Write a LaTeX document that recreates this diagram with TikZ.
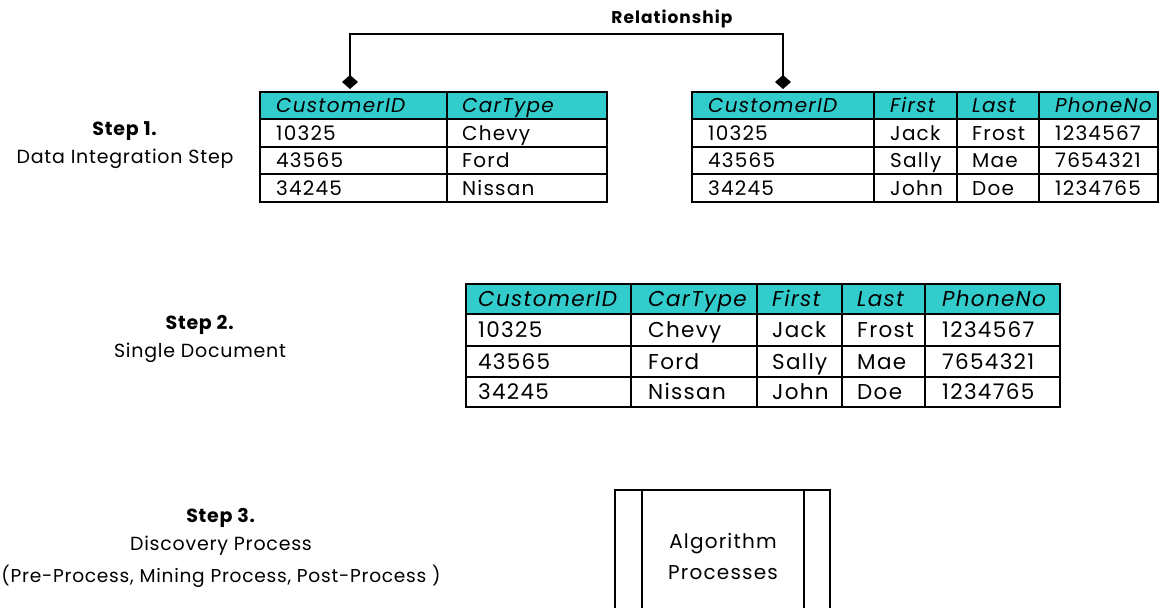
\documentclass[tikz,border=0pt]{standalone}
\usepackage{fontspec}
\setmainfont{Poppins}[LetterSpace=6]
\newfontfamily\labelfont{Poppins}[LetterSpace=4]
\usetikzlibrary{arrows.meta}
\definecolor{hdrcyan}{HTML}{33CCCC}
\begin{document}
\begin{tikzpicture}[x=1pt,y=-1pt,
  gridline/.style={draw=black,line width=2pt},
  hdrfill/.style={fill=hdrcyan},
  cellA/.style={anchor=west,inner sep=0pt,text height=14pt,text depth=0pt,font=\fontsize{20}{23}\selectfont},
  headA/.style={cellA,font=\fontsize{20}{23}\selectfont\itshape},
  cellB/.style={anchor=west,inner sep=0pt,text height=15pt,text depth=0pt,font=\fontsize{21.5}{25}\selectfont},
  headB/.style={cellB,font=\fontsize{21.5}{25}\selectfont\itshape},
  steplabel/.style={align=center,inner sep=0pt,font=\labelfont\fontsize{19}{27.5}\selectfont},
  link/.style={line width=2pt,{Diamond[length=14pt,width=16pt]}-{Diamond[length=14pt,width=16pt]},shorten <=3pt,shorten >=3pt}
]
\useasboundingbox (0,0) rectangle (1162,608);

% ---------- Table A: CustomerID / CarType ----------
\fill[hdrfill] (260,92) rectangle (607,119);
\draw[gridline] (260,92) rectangle (607,202);
\foreach \y in {119,147,174} \draw[gridline] (260,\y) -- (607,\y);
\draw[gridline] (447,92) -- (447,202);
\node[headA,name=ta-h1] at (276,105.5) {CustomerID};
\node[headA,name=ta-h2] at (462,105.5) {CarType};
\foreach \y/\a/\b [count=\r] in {133/10325/Chevy,160.5/43565/Ford,188/34245/Nissan}{
  \node[cellA,name=ta-\r-1] at (276,\y) {\a};
  \node[cellA,name=ta-\r-2] at (462,\y) {\b};
}

% ---------- Table B: CustomerID / First / Last / PhoneNo ----------
\fill[hdrfill] (692,92) rectangle (1158,119);
\draw[gridline] (692,92) rectangle (1158,202);
\foreach \y in {119,147,174} \draw[gridline] (692,\y) -- (1158,\y);
\foreach \x in {874,957,1039} \draw[gridline] (\x,92) -- (\x,202);
\foreach \x/\t [count=\i] in {708/CustomerID,890/First,972/Last,1055/PhoneNo}
  \node[headA,name=tb-h\i] at (\x,105.5) {\t};
\foreach \y/\a/\b/\c/\d [count=\r] in {133/10325/Jack/Frost/1234567,160.5/43565/Sally/Mae/7654321,188/34245/John/Doe/1234765}{
  \node[cellA,name=tb-\r-1] at (708,\y) {\a};
  \node[cellA,name=tb-\r-2] at (890,\y) {\b};
  \node[cellA,name=tb-\r-3] at (972,\y) {\c};
  \node[cellA,name=tb-\r-4] at (1055,\y) {\d};
}

% ---------- Relationship connector ----------
\coordinate (keyA) at (350,92);
\coordinate (keyB) at (783,92);
\coordinate (relbar) at (566,33.5);
\draw[link] (keyA) |- (relbar) -| (keyB);
\node[inner sep=0pt,font=\fontsize{17}{20}\selectfont\bfseries,name=rel] at (672,19) {Relationship};

% ---------- Table C: merged document ----------
\fill[hdrfill] (466,284) rectangle (1060,314);
\draw[gridline] (466,284) rectangle (1060,407);
\foreach \y in {314,346,377} \draw[gridline] (466,\y) -- (1060,\y);
\foreach \x in {631,757,842,925} \draw[gridline] (\x,284) -- (\x,407);
\foreach \x/\t [count=\i] in {478/CustomerID,648/CarType,772/First,857/Last,942/PhoneNo}
  \node[headB,name=tc-h\i] at (\x,299) {\t};
\foreach \y/\a/\b/\c/\d/\e [count=\r] in {330/10325/Chevy/Jack/Frost/1234567,361.5/43565/Ford/Sally/Mae/7654321,392/34245/Nissan/John/Doe/1234765}{
  \node[cellB,name=tc-\r-1] at (478,\y) {\a};
  \node[cellB,name=tc-\r-2] at (648,\y) {\b};
  \node[cellB,name=tc-\r-3] at (772,\y) {\c};
  \node[cellB,name=tc-\r-4] at (857,\y) {\d};
  \node[cellB,name=tc-\r-5] at (942,\y) {\e};
}

% ---------- Algorithm box ----------
\draw[gridline] (615,608) -- (615,490) -- (830,490) -- (830,608);
\draw[gridline] (642,490) -- (642,608);
\draw[gridline] (804,490) -- (804,608);
\node[align=center,inner sep=0pt,font=\fontsize{20}{31}\selectfont,name=alg] at (723,556) {Algorithm\\Processes};

% ---------- Step labels ----------
\node[steplabel,name=step1] at (125,145) {\textbf{Step 1.}\\Data Integration Step};
\node[steplabel,name=step2] at (200,339) {\textbf{Step 2.}\\Single Document};
\node[steplabel,name=step3] at (221,548) {\textbf{Step 3.}\\Discovery Process\\[5pt]{\fontsize{18.6}{27.5}\selectfont(Pre-Process, Mining Process, Post-Process )}};
\end{tikzpicture}
\end{document}
